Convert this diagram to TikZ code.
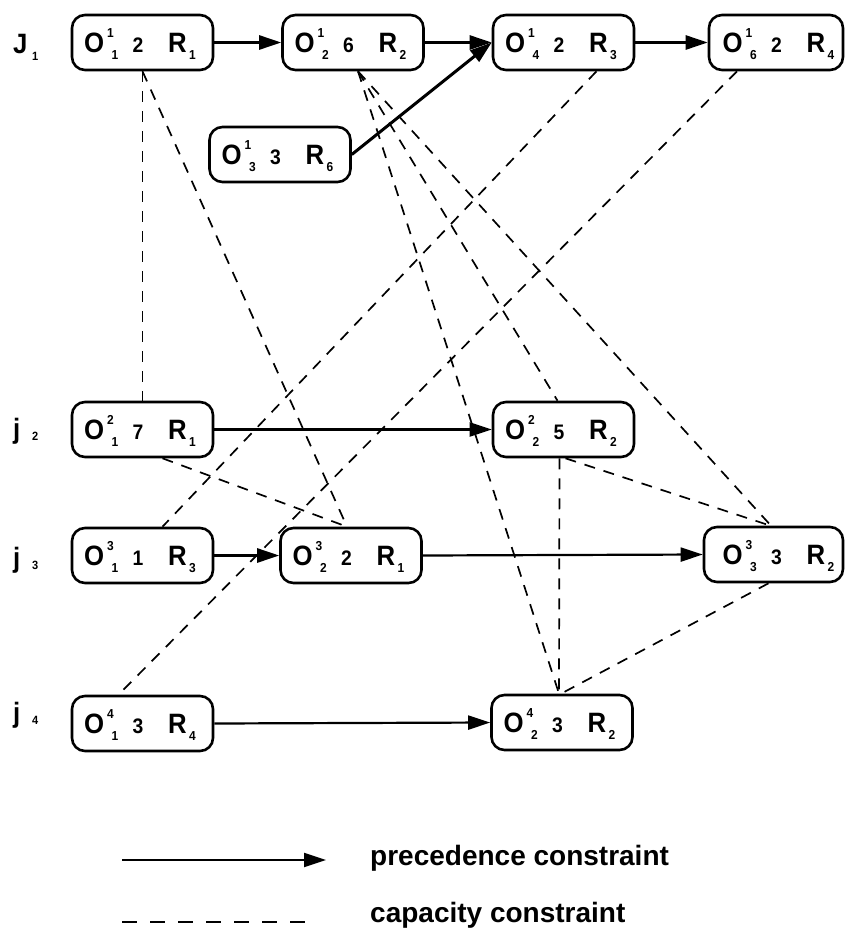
\documentclass[tikz,border=0pt]{standalone}
\usepackage{fontspec}
\usetikzlibrary{arrows.meta,calc}
\newfontface\boxfont[FakeStretch=0.92]{Liberation Sans Bold}
\newfontface\legfont{Liberation Sans Bold}
\newcommand\atx[2]{\makebox[0pt][l]{\hspace*{#1}#2}}
\newcommand\subsz{\fontsize{13}{13}\selectfont}
\newcommand\numsz{\fontsize{21}{21}\selectfont}
\newcommand\optext[4]{\makebox[117pt][l]{\rule{0pt}{20pt}\smash{\atx{0pt}{O}\atx{23pt}{\raisebox{15pt}{\subsz #1}}\atx{27.5pt}{\raisebox{-7pt}{\subsz #2}}\atx{46pt}{\makebox[16pt]{\numsz #3}}\atx{84pt}{R}\atx{105pt}{\raisebox{-7pt}{\subsz #4}}}}}
\newcommand\joblab[3]{\makebox[25pt][l]{\atx{0pt}{#1}\atx{19pt}{\raisebox{#3}{\fontsize{12}{12}\selectfont #2}}}}
\begin{document}
\begin{tikzpicture}[x=1pt,y=-1pt,
  opbox/.style={draw, line width=2.6pt, rounded corners=13pt, minimum width=141pt,
    minimum height=55pt, inner sep=0pt, font=\boxfont\fontsize{28}{28}\selectfont},
  joblabel/.style={anchor=base west, inner sep=0pt, font=\boxfont\fontsize{28}{28}\selectfont},
  precline/.style={line width=2.6pt, -{Triangle[length=22pt,width=14pt]}},
  capline/.style={line width=1.7pt, dash pattern=on 11pt off 9pt},
  legtext/.style={anchor=base west, inner sep=0pt, font=\legfont\fontsize{28}{28}\selectfont}]
\useasboundingbox (0,0) rectangle (844,929);

% job labels
\node[joblabel] (j1) at (13,53) {\joblab{J}{1}{-7pt}};
\node[joblabel] (j2) at (13,438) {\joblab{j}{2}{-2pt}};
\node[joblabel] (j3) at (13,567) {\joblab{j}{3}{-2pt}};
\node[joblabel] (j4) at (13,722) {\joblab{j}{4}{-2pt}};

% operations
\node[opbox] (n11) at (142.5,42.5) {\optext{1}{1}{2}{1}};
\node[opbox] (n21) at (353,42.5) {\optext{1}{2}{6}{2}};
\node[opbox] (n41) at (563.5,42.5) {\optext{1}{4}{2}{3}};
\node[opbox, minimum width=134pt] (n61) at (776,42.5) {\hspace*{10pt}\optext{1}{6}{2}{4}};
\node[opbox] (n31) at (280,154.5) {\optext{1}{3}{3}{6}};
\node[opbox] (n12) at (142.5,429.5) {\optext{2}{1}{7}{1}};
\node[opbox] (n22) at (563.5,429.5) {\optext{2}{2}{5}{2}};
\node[opbox] (n13) at (142.5,555.5) {\optext{3}{1}{1}{3}};
\node[opbox] (n23) at (351,555.5) {\optext{3}{2}{2}{1}};
\node[opbox, minimum width=139pt] (n33) at (773.5,554.5) {\hspace*{15pt}\optext{3}{3}{3}{2}};
\node[opbox] (n14) at (142.5,723.5) {\optext{4}{1}{3}{4}};
\node[opbox] (n24) at (562,722.5) {\optext{4}{2}{3}{2}};

% precedence constraints
\draw[precline] (n11.east) -- (n21.west);
\draw[precline] (n21.east) -- (n41.west);
\draw[precline] (n41.east) -- (n61.west);
\draw[precline, line width=3pt] (n31.east) -- (n41.west);
\draw[precline, line width=2.2pt] (n12.east) -- (n22.west);
\draw[precline] (n13.east) -- (n23.west);
\draw[precline, line width=2.2pt] (n23.east) -- (n33.west);
\draw[precline, line width=2.2pt] (n14.east) -- (n24.west);

% capacity constraints
\draw[capline] (n11.south) -- (n12.north);
\draw[capline] (n11.south) -- ($(n23.north)+(-4,0)$);
\draw[capline] ($(n12.south)+(20,0)$) -- ($(n23.north)+(-4,0)$);
\draw[capline] ($(n21.south)+(5,0)$) -- ($(n22.north)+(-6,0)$);
\draw[capline] ($(n21.south)+(5,0)$) -- ($(n33.north)+(-2.5,0)$);
\draw[capline] ($(n21.south)+(5,0)$) -- ($(n24.north)+(-3,0)$);
\draw[capline] ($(n22.south)+(-4,0)$) -- ($(n24.north)+(-3,0)$);
\draw[capline] ($(n22.south)+(2,0)$) -- ($(n33.north)+(-3,0)$);
\draw[capline] ($(n33.south)+(-5,0)$) -- ($(n24.north)+(-1,0)$);
\draw[capline] ($(n41.south)+(33,0)$) -- ($(n13.north)+(20,0)$);
\draw[capline] ($(n61.south)+(-39,0)$) -- ($(n14.north)+(-24,0)$);

% legend
\coordinate (ls1) at (122,860);
\coordinate (ls2) at (326,860);
\draw[precline, line width=2.2pt] (ls1) -- (ls2);
\coordinate (lc1) at (122,922);
\coordinate (lc2) at (305,922);
\draw[capline, dash pattern=on 15pt off 13pt] (lc1) -- (lc2);
\node[legtext] (t1) at (370,865) {precedence constraint};
\node[legtext] (t2) at (370,922) {capacity constraint};
\end{tikzpicture}
\end{document}
